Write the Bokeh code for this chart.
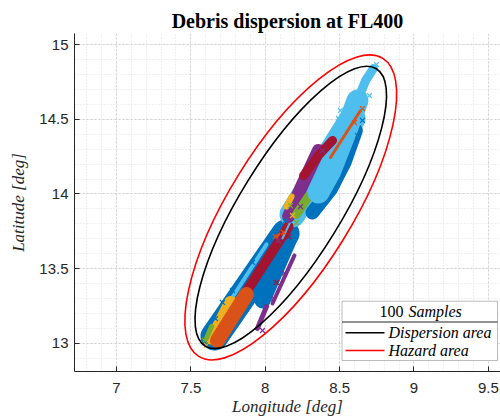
from bokeh.plotting import figure
from bokeh.models import (ColumnDataSource, Range1d, SingleIntervalTicker,
                          BoxAnnotation, Label)
from bokeh.embed import file_html
from bokeh.resources import INLINE

# ---------------- data ----------------
x_tick_values = [7, 7.5, 8, 8.5, 9, 9.5]
x_tick_labels = ["7", "7.5", "8", "8.5", "9", "9.5"]
y_tick_values = [13, 13.5, 14, 14.5, 15]
y_tick_labels = ["13", "13.5", "14", "14.5", "15"]

# ellipses (centre lon/lat, major / minor axis length in deg, tilt in degrees)
ell_lon = [8.172, 8.172]
ell_lat = [13.91, 13.91]
ell_major = [2.191, 2.355]
ell_minor = [0.676, 0.826]
ell_tilt = [58.3, 58.3]
ell_color = ["#000000", "#ff0000"]
ell_name = ["Dispersion area", "Hazard area"]

BLUE, ORANGE, YELLOW, PURPLE = "#0072BD", "#D95319", "#EDB120", "#7E2F8E"
GREEN, LBLUE, DRED = "#77AC30", "#4DBEEE", "#A2142F"

# debris streaks (dense sample clouds) : colour, lon list, lat list, thickness
streak_color = [BLUE, LBLUE, BLUE, PURPLE,
                BLUE, LBLUE, DRED, YELLOW, ORANGE, GREEN, PURPLE,
                ORANGE, LBLUE, DRED,
                PURPLE, YELLOW, GREEN, BLUE, LBLUE, LBLUE, DRED, ORANGE]
streak_lon = [
    [7.659, 8.137],
    [8.184, 8.587],
    [7.982, 8.157],
    [8.049, 8.197],
    [7.753, 7.901, 8.022, 8.123],
    [7.740, 8.009],
    [7.834, 7.982, 8.157],
    [7.646, 7.767],
    [7.679, 7.780, 7.874],
    [7.605, 7.639],
    [7.948, 8.009],
    [8.076, 8.210],
    [8.116, 8.224],
    [8.103, 8.184],
    [8.157, 8.251, 8.358],
    [8.143, 8.177],
    [8.210, 8.291],
    [8.318, 8.440, 8.533, 8.610],
    [8.358, 8.439, 8.553, 8.621],
    [8.621, 8.675, 8.728],
    [8.258, 8.358, 8.453],
    [8.439, 8.641],
]
streak_lat = [
    [13.045, 13.735],
    [13.863, 14.506],
    [13.286, 13.688],
    [13.266, 13.588],
    [13.166, 13.380, 13.554, 13.715],
    [13.246, 13.662],
    [13.286, 13.514, 13.782],
    [13.032, 13.273],
    [13.018, 13.179, 13.326],
    [13.032, 13.112],
    [13.099, 13.246],
    [13.702, 13.916],
    [13.702, 13.929],
    [13.742, 13.889],
    [13.849, 14.064, 14.292],
    [13.916, 13.983],
    [13.863, 13.983],
    [13.876, 14.030, 14.211, 14.426],
    [14.010, 14.157, 14.446, 14.627],
    [14.627, 14.761, 14.842],
    [14.123, 14.258, 14.359],
    [14.245, 14.560],
]
streak_width = [28, 26, 16, 4,
                25, 4, 10, 13, 15, 5, 5, 2, 2, 2, 13, 6, 9, 14, 22, 9, 9, 3]

# individual stray samples (x markers)
stray_lon = [8.748, 8.715, 8.701, 8.506, 8.493,
             8.654, 8.600, 8.123, 8.069,
             8.654, 8.621, 8.137, 7.713, 7.666, 7.780, 7.915,
             8.210, 7.592, 8.170,
             8.089, 8.237, 7.982, 8.056, 8.130, 8.385,
             8.184, 7.605,
             8.157, 8.049, 8.076]
stray_lat = [14.868, 14.815, 14.660, 14.560, 14.506,
             14.573, 14.479, 13.742, 13.715,
             14.493, 14.392, 13.822, 13.273, 13.164, 13.353, 13.541,
             13.809, 13.018, 13.922,
             13.688, 13.916, 13.085, 13.300, 13.470, 14.291,
             13.856, 12.985,
             13.715, 13.621, 13.407]
stray_color = [LBLUE] * 5 + [ORANGE] * 4 + [BLUE] * 7 + [GREEN] * 3 + \
              [PURPLE] * 6 + [YELLOW] * 2 + [DRED] * 3

# ---------------- figure ----------------
p = figure(frame_width=426, frame_height=338,
           x_range=Range1d(6.718, 9.582), y_range=Range1d(12.81, 15.076),
           output_backend="svg", toolbar_location=None,
           min_border_left=74, min_border_right=0,
           min_border_top=33, min_border_bottom=45,
           background_fill_color="white", border_fill_color="white")
p.outline_line_color = None

p.title.text = "Debris dispersion at FL400"
p.title.align = "center"
p.title.text_font = "Liberation Serif"
p.title.text_font_style = "bold"
p.title.text_font_size = "20px"
p.title.text_color = "#000000"
p.title.standoff = 4

for ax, vals, labs in ((p.xaxis[0], x_tick_values, x_tick_labels),
                       (p.yaxis[0], y_tick_values, y_tick_labels)):
    ax.ticker = SingleIntervalTicker(interval=0.5, num_minor_ticks=5)
    ax.major_label_overrides = {v: l for v, l in zip(vals, labs)}
    ax.major_tick_in = 5
    ax.major_tick_out = 0
    ax.minor_tick_in = 0
    ax.minor_tick_out = 0
    ax.axis_line_color = "#262626"
    ax.major_tick_line_color = "#262626"
    ax.major_label_text_font = "Liberation Sans"
    ax.major_label_text_font_size = "15px"
    ax.major_label_text_color = "#262626"
    ax.axis_label_text_font = "Liberation Serif"
    ax.axis_label_text_font_style = "italic"
    ax.axis_label_text_font_size = "17px"
    ax.axis_label_text_color = "#262626"

p.xaxis.axis_label = "Longitude [deg]"
p.yaxis.axis_label = "Latitude [deg]"
p.xaxis.major_label_standoff = 11
p.xaxis.axis_label_standoff = 1
p.yaxis.major_label_standoff = 6
p.yaxis.axis_label_standoff = 8

for g in (p.xgrid[0], p.ygrid[0]):
    g.grid_line_color = "#d2d2d2"
    g.grid_line_dash = "2 2"
    g.grid_line_width = 1
    g.minor_grid_line_color = "#e0e0e0"
    g.minor_grid_line_dash = "1 2"
    g.minor_grid_line_width = 1

streaks = ColumnDataSource(dict(xs=streak_lon, ys=streak_lat,
                                color=streak_color, w=streak_width))
p.multi_line(xs="xs", ys="ys", line_color="color", line_width="w",
             line_cap="round", line_join="round", source=streaks)

strays = ColumnDataSource(dict(x=stray_lon, y=stray_lat, c=stray_color))
p.scatter(x="x", y="y", marker="x", size=7, line_width=1.2,
          line_color="c", source=strays)

ells = ColumnDataSource(dict(x=ell_lon, y=ell_lat, w=ell_major, h=ell_minor,
                             a=ell_tilt, c=ell_color))
p.ellipse(x="x", y="y", width="w", height="h", angle="a", angle_units="deg",
          fill_color=None, line_color="c", line_width=1.6, source=ells)

# ---------------- legend (frame-relative screen units) ----------------
def sbox(l, r, b, t, **kw):
    return BoxAnnotation(left=l, right=r, bottom=b, top=t,
                         left_units="screen", right_units="screen",
                         bottom_units="screen", top_units="screen", **kw)

p.add_layout(sbox(267.5, 423, 11, 70.3, fill_color="white", fill_alpha=1,
                  line_color="#262626", line_width=1))
p.add_layout(sbox(267.5, 423, 49, 50, fill_color="#262626", fill_alpha=1,
                  line_color=None))
leg_y = [38.7, 21.0]
for yy, c, name in zip(leg_y, ell_color, ell_name):
    p.add_layout(sbox(271, 310, yy - 0.8, yy + 0.8, fill_color=c, fill_alpha=1,
                      line_color=None))
    p.add_layout(Label(x=314, y=yy, x_units="screen", y_units="screen",
                       text=name, text_font="Liberation Serif",
                       text_font_style="italic", text_font_size="16px",
                       text_baseline="middle", text_color="#000000"))
p.add_layout(Label(x=305, y=60, x_units="screen", y_units="screen",
                   text="100", text_font="Liberation Serif",
                   text_font_size="16px", text_baseline="middle",
                   text_color="#000000"))
p.add_layout(Label(x=334, y=60, x_units="screen", y_units="screen",
                   text="Samples", text_font="Liberation Serif",
                   text_font_style="italic", text_font_size="16px",
                   text_baseline="middle", text_color="#000000"))

open("out.html", "w").write(file_html(p, INLINE))
